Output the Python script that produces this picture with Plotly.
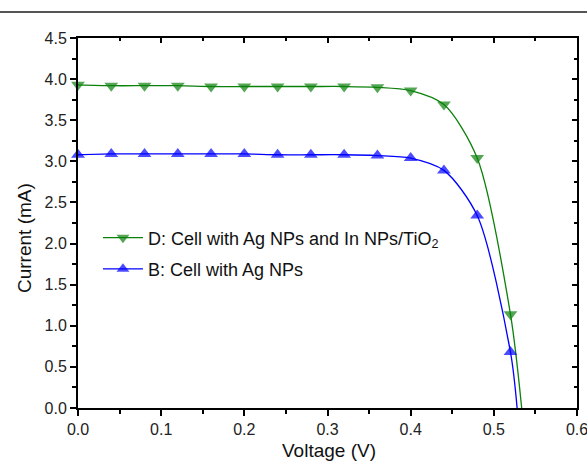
import plotly.graph_objects as go

# Measured J-V points (voltage in V, current in mA)
voltage = [0.00, 0.04, 0.08, 0.12, 0.16, 0.20, 0.24, 0.28, 0.32, 0.36, 0.40, 0.44, 0.48, 0.52]
current_d = [3.93, 3.92, 3.92, 3.92, 3.91, 3.91, 3.91, 3.91, 3.91, 3.90, 3.86, 3.69, 3.04, 1.14]
current_b = [3.08, 3.09, 3.09, 3.09, 3.09, 3.09, 3.08, 3.08, 3.08, 3.07, 3.04, 2.89, 2.34, 0.68]

# Open-circuit voltages (current reaches zero)
voc_d = 0.5335
voc_b = 0.528

label_d = "D: Cell with Ag NPs and In NPs/TiO<sub>2</sub>"
label_b = "B: Cell with Ag NPs"

FONT = "Liberation Sans, Arial, Helvetica, sans-serif"
green = "#0b800b"
blue = "#0000ff"

fig = go.Figure()

for i_list, voc, color, sym, name, grp in [
    (current_d, voc_d, green, "triangle-down", label_d, "d"),
    (current_b, voc_b, blue, "triangle-up", label_b, "b"),
]:
    xs = voltage + [voc]
    ys = i_list + [0.0]
    # marker on every measured point, none at the Voc end of the curve
    sizes = [12] * len(voltage) + [0]
    fig.add_trace(go.Scatter(
        x=xs, y=ys, mode="lines+markers", name=name, legendgroup=grp,
        line=dict(color=color, width=1.3, shape="spline", smoothing=0.8),
        marker=dict(symbol=sym, size=sizes, color=color, line=dict(width=0)),
        cliponaxis=False,
    ))

axis_font = dict(family=FONT, size=16, color="#222")
common = dict(showgrid=False, zeroline=False, automargin=False,
              showline=True, linecolor="black", linewidth=2)

fig.update_layout(
    width=587, height=461,
    margin=dict(l=78, r=10, t=38, b=53),
    paper_bgcolor="white", plot_bgcolor="white",
    font=dict(family=FONT, color="#222"),
    xaxis=dict(
        range=[0, 0.6], dtick=0.1, tickformat=".1f", ticklabeloverflow="allow",
        ticks="outside", ticklen=6, tickwidth=1.5, tickcolor="black",
        minor=dict(dtick=0.05, ticks="outside", ticklen=4, tickwidth=1.5, tickcolor="black"),
        tickfont=axis_font, **common,
    ),
    yaxis=dict(
        range=[0, 4.5], dtick=0.5, tickformat=".1f", ticklabeloverflow="allow",
        ticks="outside", ticklen=6, tickwidth=1.5, tickcolor="black",
        minor=dict(dtick=0.25, ticks="outside", ticklen=4, tickwidth=1.5, tickcolor="black"),
        tickfont=axis_font, **common,
    ),
    xaxis2=dict(
        overlaying="x", side="top", range=[0, 0.6], dtick=0.1,
        ticks="inside", ticklen=5, tickwidth=1.5, tickcolor="black",
        minor=dict(dtick=0.05, ticks="inside", ticklen=3, tickwidth=1.5, tickcolor="black"),
        showticklabels=False, **common,
    ),
    yaxis2=dict(
        overlaying="y", side="right", range=[0, 4.5], dtick=0.5,
        ticks="inside", ticklen=5, tickwidth=1.5, tickcolor="black",
        minor=dict(dtick=0.25, ticks="inside", ticklen=3, tickwidth=1.5, tickcolor="black"),
        showticklabels=False, **common,
    ),
    legend=dict(
        x=0.04, y=0.418, xanchor="left", yanchor="middle",
        bgcolor="rgba(0,0,0,0)", font=dict(size=18, color="#111", family=FONT),
        itemwidth=40, traceorder="grouped", tracegroupgap=5,
    ),
    annotations=[
        dict(text="Voltage (V)", xref="paper", yref="paper", x=(329 - 78) / 499, y=(408 - 450) / 370,
             xanchor="center", yanchor="middle", showarrow=False,
             font=dict(size=19, family=FONT, color="#111")),
        dict(text="Current (mA)", xref="paper", yref="paper", x=(24 - 78) / 499, y=(408 - 238) / 370,
             xanchor="center", yanchor="middle", showarrow=False, textangle=-90,
             font=dict(size=19, family=FONT, color="#111")),
    ],
    shapes=[dict(
        type="line", xref="paper", yref="paper",
        x0=-78 / 499, x1=509 / 499, y0=1 + 26 / 370, y1=1 + 26 / 370,
        line=dict(color="#555", width=2),
    )],
)

# Attach an empty trace to the mirrored axes so they are drawn
fig.add_trace(go.Scatter(x=[], y=[], xaxis="x2", yaxis="y2", showlegend=False, hoverinfo="skip"))

fig.write_html("out.html")
